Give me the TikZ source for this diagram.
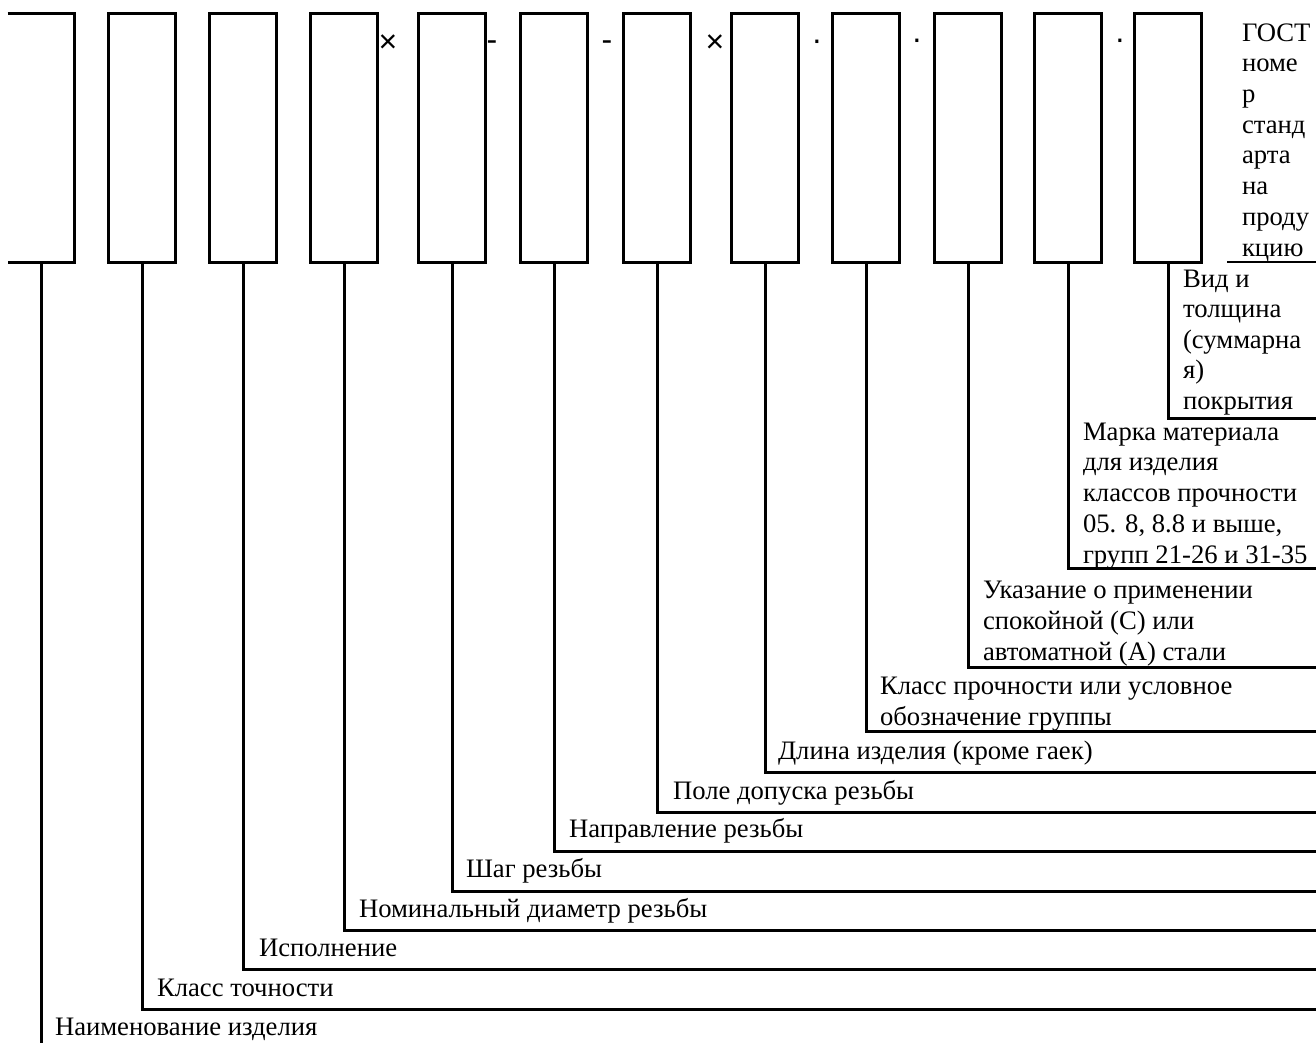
\documentclass[tikz,border=0pt]{standalone}
\usepackage{fontspec}
\setmainfont{Liberation Serif}
\newfontfamily\sepfont{Liberation Sans}
\begin{document}
\begin{tikzpicture}[x=1pt,y=-1pt,line join=miter]
\useasboundingbox (0,0) rectangle (1316,1043);
\tikzset{
  box/.style={draw, line width=3pt, inner sep=0pt, outer sep=0pt,
    minimum width=67pt, minimum height=248pt},
  lead/.style={line width=3pt},
  lab/.style={inner sep=0pt, outer sep=0pt, anchor=base west,
    font=\fontsize{26.67}{30.7}\selectfont},
  sep/.style={inner sep=0pt, outer sep=0pt, anchor=base,
    font=\sepfont\fontsize{32}{34}\selectfont},
}
% boxes
\node[box, draw=none] (b1) at (41,138) {};
\draw[line width=3pt] (b1.north west) -- (b1.north east) -- (b1.south east) -- (b1.south west);
\node[box] (b2) at (142,138) {};
\node[box] (b3) at (243,138) {};
\node[box] (b4) at (344,138) {};
\node[box] (b5) at (452,138) {};
\node[box] (b6) at (554,138) {};
\node[box] (b7) at (657,138) {};
\node[box] (b8) at (765,138) {};
\node[box] (b9) at (866,138) {};
\node[box] (b10) at (968,138) {};
\node[box] (b11) at (1068,138) {};
\node[box] (b12) at (1168,138) {};
% separators
\node[sep] (s1) at (388,53) {×};
\node[sep] (s2) at (492,51) {-};
\node[sep] (s3) at (607,51) {-};
\node[sep] (s4) at (715,53) {×};
\node[sep] (s5) at (817,51) {·};
\node[sep] (s6) at (917,50) {·};
\node[sep] (s7) at (1120,50) {·};
% GOST
\node[lab] (gost) at (1242,256) {\vbox{\baselineskip=30.7pt
  \hbox{ГОСТ}\hbox{номе}\hbox{р}\hbox{станд}\hbox{арта}\hbox{на}\hbox{проду}\hbox{кцию}}};
\coordinate (g1) at (1227,262);
\coordinate (g2) at (1316,262);
\draw[line width=2.5pt] (g1) -- (g2);
% line ends
\coordinate (e1) at (41,1043);
\coordinate (e2) at (1316,1009);
\coordinate (e3) at (1316,969);
\coordinate (e4) at (1316,930);
\coordinate (e5) at (1316,891);
\coordinate (e6) at (1316,851);
\coordinate (e7) at (1316,812);
\coordinate (e8) at (1316,772);
\coordinate (e9) at (1316,731);
\coordinate (e10) at (1316,667);
\coordinate (e11) at (1316,568);
\coordinate (e12) at (1316,418);
\draw[lead] (b1.south) -- (e1);
\foreach \i in {2,...,12} { \draw[lead] (b\i.south) |- (e\i); }
% labels
\node[lab] (t1) at (55,1035) {Наименование изделия};
\node[lab] (t2) at (157,996) {Класс точности};
\node[lab] (t3) at (259,956) {Исполнение};
\node[lab] (t4) at (359,917) {Номинальный диаметр резьбы};
\node[lab] (t5) at (466,877) {Шаг резьбы};
\node[lab] (t6) at (569,837) {Направление резьбы};
\node[lab] (t7) at (673,799) {Поле допуска резьбы};
\node[lab] (t8) at (778,759) {Длина изделия (кроме гаек)};
\node[lab] (t9) at (880,725) {\vbox{\baselineskip=30.7pt
  \hbox{Класс прочности или условное}\hbox{обозначение группы}}};
\node[lab] (t10) at (983,660) {\vbox{\baselineskip=30.7pt
  \hbox{Указание о применении}\hbox{спокойной (С) или}\hbox{автоматной (А) стали}}};
\node[lab] (t11) at (1083,563) {\vbox{\baselineskip=30.7pt
  \hbox{Марка материала}\hbox{для изделия}\hbox{классов прочности}\hbox{05. 8, 8.8 и выше,}\hbox{групп 21-26 и 31-35}}};
\node[lab] (t12) at (1183,409) {\vbox{\baselineskip=30.5pt
  \hbox{Вид и}\hbox{толщина}\hbox{(суммарна}\hbox{я)}\hbox{покрытия}}};
\end{tikzpicture}
\end{document}
